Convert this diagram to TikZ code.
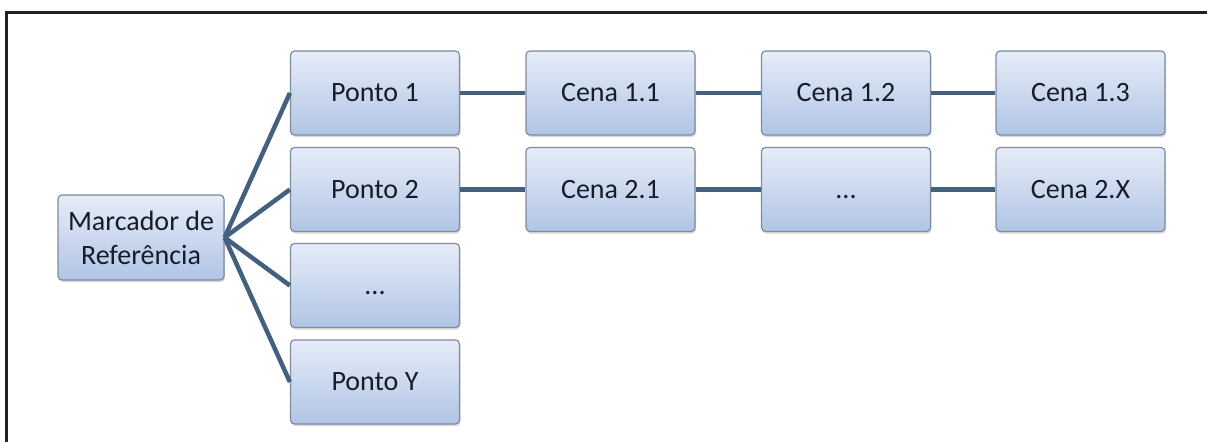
\documentclass[tikz,border=0pt]{standalone}
\usepackage{fontspec}
\setmainfont{Carlito}
\usetikzlibrary{shadows}

\definecolor{moldura}{HTML}{222222}
\definecolor{ligacao}{HTML}{44607F}
\definecolor{bordacaixa}{HTML}{7F8BA0}
\definecolor{topocaixa}{HTML}{E6ECF8}
\definecolor{basecaixa}{HTML}{B0C5E5}
\definecolor{textocaixa}{HTML}{161C28}

\tikzset{
    caixa/.style={draw=bordacaixa, line width=1.2pt, rounded corners=4pt,
        top color=topocaixa, bottom color=basecaixa,
        minimum width=169pt, minimum height=84pt, inner sep=0pt,
        text=textocaixa, font=\fontsize{28}{34}\selectfont, align=center,
        drop shadow={shadow xshift=1pt, shadow yshift=-2pt, opacity=0.25, fill=black!60}},
    liga/.style={draw=ligacao, line width=4.5pt}
}

\begin{document}
\begin{tikzpicture}[x=1pt, y=-1pt]
    \useasboundingbox (0,0) rectangle (1207,442);
    % moldura
    \draw[moldura, line width=2.5pt] (6.5,442) -- (6.5,12.5) -- (1207,12.5);

    % marcador e pontos
    \node[caixa, minimum width=166pt, minimum height=85pt] (marc) at (141,237.5) {Marcador de\\Referência};
    \node[caixa] (p1) at (375,93) {Ponto 1};
    \node[caixa] (p2) at (375,189.5) {Ponto 2};
    \node[caixa] (p3) at (375,285.5) {\vphantom{Ponto}...};
    \node[caixa] (py) at (375,382) {Ponto Y};

    % cenas
    \node[caixa] (c11) at (610.5,93) {Cena 1.1};
    \node[caixa] (c12) at (846,93) {Cena 1.2};
    \node[caixa] (c13) at (1080.5,93) {Cena 1.3};
    \node[caixa] (c21) at (610.5,189.5) {Cena 2.1};
    \node[caixa] (c22) at (846,189.5) {\vphantom{Ponto}...};
    \node[caixa] (c2x) at (1080.5,189.5) {Cena 2.X};

    % ligacoes
    \foreach \p in {p1,p2,p3,py}
        \draw[liga] (marc.east) -- (\p.west);
    \draw[liga] (p1) -- (c11) (c11) -- (c12) (c12) -- (c13);
    \draw[liga] (p2) -- (c21) (c21) -- (c22) (c22) -- (c2x);
\end{tikzpicture}
\end{document}
